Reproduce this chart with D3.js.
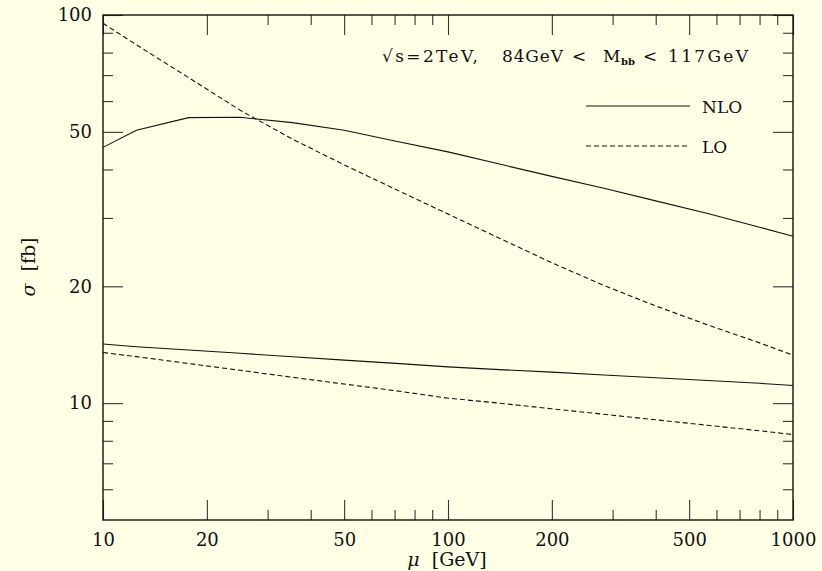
<!DOCTYPE html>
<html>
<head>
<meta charset="utf-8">
<script src="https://cdn.jsdelivr.net/npm/d3@7"></script>
<style>
 body { margin: 0; background: #ffffe6; }
 svg text { font-family: "DejaVu Serif", serif; fill: #111; }
</style>
</head>
<body>
<svg id="chart" width="822" height="571"></svg>
<script>
// scale mu [GeV]
var mu = [10, 12.5, 17.7, 25, 35.4, 50, 70.7, 100, 141, 200, 283, 400, 566, 800, 1000];
// cross sections [fb], upper pair and lower pair of curves
var nloUpper = [45.6, 50.5, 54.4, 54.5, 52.8, 50.5, 47.3, 44.4, 41.3, 38.4, 35.8, 33.2, 30.8, 28.4, 26.9];
var loUpper  = [95.2, 83.8, 69.0, 56.8, 47.9, 41.1, 35.5, 30.7, 26.6, 23.0, 20.1, 17.8, 15.9, 14.3, 13.3];
var nloLower = [14.2, 13.98, 13.71, 13.44, 13.17, 12.91, 12.66, 12.4, 12.2, 12.02, 11.82, 11.63, 11.44, 11.25, 11.1];
var loLower  = [13.5, 13.18, 12.65, 12.15, 11.66, 11.2, 10.76, 10.3, 10.0, 9.67, 9.36, 9.06, 8.77, 8.49, 8.3];

var xMajor = [10, 20, 50, 100, 200, 500, 1000];
var xMinor = [30, 40, 60, 70, 80, 90, 300, 400, 600, 700, 800, 900];
var yMajor = [10, 20, 50, 100];
var yMinor = [6, 7, 8, 9, 30, 40, 60, 70, 80, 90];

(function () {
var svg = d3.select("svg#chart"),
    mLeft = 103, mTop = 15, width = 690, height = 505;

var x = d3.scaleLog().domain([10, 1000]).range([mLeft, mLeft + width]);
var y = d3.scaleLog().domain([5, 100]).range([mTop + height, mTop]);

var g = svg.append("g");

function tickAxis(axis, tx, ty, vals, len, labels) {
  var a = axis.tickValues(vals).tickSizeInner(-len).tickSizeOuter(0);
  if (!labels) a.tickFormat("");
  else a.tickFormat(d3.format("d"));
  var ga = g.append("g").attr("transform", "translate(" + tx + "," + ty + ")").call(a);
  ga.select(".domain").remove();
  ga.selectAll(".tick line").attr("stroke", "#333").attr("stroke-width", 1.1);
  return ga;
}

// bottom / top
var gb = tickAxis(d3.axisBottom(x), 0, mTop + height, xMajor, 20, true);
gb.selectAll("text").attr("y", 13).style("font-size", "18px");
tickAxis(d3.axisBottom(x), 0, mTop + height, xMinor, 10, false);
tickAxis(d3.axisTop(x), 0, mTop, xMajor, 20, false);
tickAxis(d3.axisTop(x), 0, mTop, xMinor, 10, false);
// left / right
var gl = tickAxis(d3.axisLeft(y), mLeft, 0, yMajor, 20, true);
gl.selectAll("text").attr("x", -11).style("font-size", "18px");
tickAxis(d3.axisLeft(y), mLeft, 0, yMinor, 10, false);
tickAxis(d3.axisRight(y), mLeft + width, 0, yMajor, 20, false);
tickAxis(d3.axisRight(y), mLeft + width, 0, yMinor, 10, false);

// frame
g.append("rect").attr("x", mLeft).attr("y", mTop).attr("width", width).attr("height", height)
 .attr("fill", "none").attr("stroke", "#111").attr("stroke-width", 1.4);

var line = d3.line().x(d => x(d[0])).y(d => y(d[1]));
function curve(vals, dashed) {
  g.append("path").datum(mu.map((m, i) => [m, vals[i]]))
   .attr("d", line).attr("fill", "none").attr("stroke", "#111").attr("stroke-width", 1.1)
   .attr("stroke-dasharray", dashed ? "5,3" : null);
}
curve(nloUpper, false);
curve(loUpper, true);
curve(nloLower, false);
curve(loLower, true);

// title text, pieces placed one by one (textLength 0 = natural width)
var pieces = [["\u221As=2TeV,", 382, 96, 0], ["84GeV", 502, 61, 0], ["<", 572, 0, 0],
              ["M", 603, 0, 0], ["bb", 621, 0, 3], ["<", 643, 0, 0], ["117GeV", 668, 80, 0]];
pieces.forEach(function (p) {
  var tx = g.append("text").attr("x", p[1]).attr("y", 62 + p[3])
   .style("font-size", p[3] ? "10px" : "17px").style("font-weight", p[3] ? "bold" : null)
   .text(p[0]);
  if (p[2]) tx.attr("textLength", p[2]).attr("lengthAdjust", "spacing");
});

// legend
var legend = [["NLO", false], ["LO", true]];
legend.forEach(function (d, i) {
  var ly = 106 + i * 40;
  g.append("line").attr("x1", 586).attr("x2", 690).attr("y1", ly).attr("y2", ly)
   .attr("stroke", "#111").attr("stroke-width", 1.1)
   .attr("stroke-dasharray", d[1] ? "5,3" : null);
  g.append("text").attr("x", 702).attr("y", ly + 7).style("font-size", "17px").text(d[0]);
});

// axis titles
var ty = g.append("text").attr("transform", "translate(35,267) rotate(-90)").attr("text-anchor", "middle")
 .style("font-size", "19px").attr("xml:space", "preserve");
ty.append("tspan").style("font-style", "italic").text("\u03C3");
ty.append("tspan").text("  [fb]");
var tx = g.append("text").attr("x", 447).attr("y", 566).attr("text-anchor", "middle")
 .style("font-size", "19px").attr("xml:space", "preserve");
tx.append("tspan").style("font-style", "italic").text("\u03BC");
tx.append("tspan").text("  [GeV]");
})();
</script>
</body>
</html>
